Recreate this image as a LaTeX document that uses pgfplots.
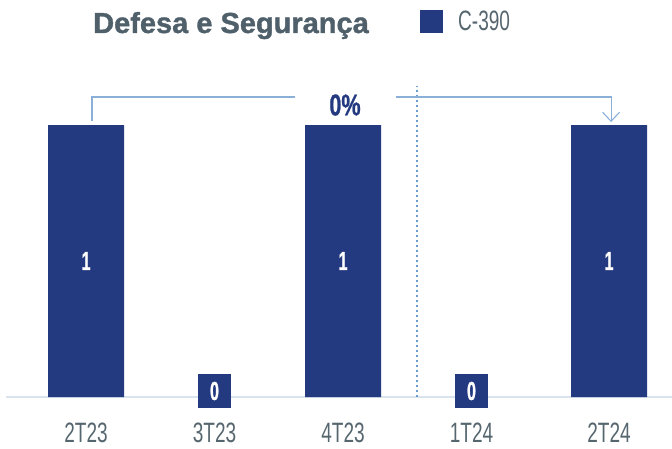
\documentclass[border=0pt]{standalone}
\usepackage{pgfplots}
\pgfplotsset{compat=1.18}
\usepackage{fontspec}
\setmainfont{Liberation Sans}
\newfontfamily\cond[FakeStretch=0.68]{Liberation Sans}
\newfontfamily\condb[FakeStretch=0.62,FakeBold=0.8]{Liberation Sans Bold}
\newfontfamily\condp[FakeStretch=0.72,FakeBold=0.8]{Liberation Sans Bold}
\newfontfamily\titlef[FakeBold=1.2]{Liberation Sans Bold}
\usetikzlibrary{arrows.meta}
\definecolor{navy}{HTML}{243A80}
\definecolor{slate}{HTML}{4F606B}
\definecolor{tickgray}{HTML}{56666F}
\definecolor{lblue}{HTML}{8AB0D8}
\definecolor{dblue}{HTML}{6C9BCF}
\definecolor{basec}{HTML}{D8E3ED}
\begin{document}
\begin{tikzpicture}
\begin{axis}[
  at={(0,0)}, anchor=south west, scale only axis,
  width=672pt, height=448pt,
  xmin=-0.6693, xmax=4.5603, ymin=-0.1875, ymax=1.4596,
  clip=false, axis line style={draw=none}, ymajorticks=false,
  major tick length=0pt,
  xtick={0,1,2,3,4.07}, xticklabels={2T23,3T23,4T23,1T24,2T24},
  xticklabel style={font=\cond\fontsize{28}{28}\selectfont, text=tickgray, anchor=base, inner sep=0pt, yshift=6pt},
]
\draw[basec, line width=1.2pt] (axis cs:-0.62,0) -- (axis cs:4.5603,0);
\addplot[ybar, bar width=76pt, bar shift=0pt, fill=navy, draw=none]
  coordinates {(0,1) (2,1) (4.07,1)};
\addplot[draw=none, nodes near coords, point meta=explicit symbolic,
  nodes near coords style={anchor=center, text=white, inner sep=0pt, font=\condb\fontsize{26}{26}\selectfont}]
  table[meta=label] {
x y label
0 0.5 1
2 0.5 1
4.07 0.5 1
};
\addplot[draw=none, nodes near coords, point meta=explicit symbolic,
  nodes near coords style={anchor=center, fill=navy, text=white, inner sep=0pt, minimum width=33pt, minimum height=34pt, font=\condb\fontsize{26}{26}\selectfont}]
  table[meta=label] {
x y label
1 0.022 0
3 0.022 0
};
\draw[dblue, line width=1.1pt, dash pattern=on 2pt off 3pt] (axis cs:2.576,0) -- (axis cs:2.576,1.143);
\draw[lblue, line width=1.1pt] (axis cs:0.0467,1.015) -- (axis cs:0.0467,1.103) -- (axis cs:1.626,1.103);
\draw[lblue, line width=1.1pt, -{Straight Barb[length=9pt,width=17pt]}] (axis cs:2.412,1.103) -- (axis cs:4.086,1.103) -- (axis cs:4.086,1.011);
\node[text=navy, inner sep=0pt, font=\condp\fontsize{30}{30}\selectfont] at (axis cs:2.0156,1.0735) {0\%};
\end{axis}
\node[anchor=base west, inner sep=0pt, text=slate, font=\titlef\fontsize{29}{29}\selectfont] at (93pt,415pt) {Defesa e Segurança};
\fill[navy] (420pt,415pt) rectangle (443pt,438pt);
\node[anchor=base west, inner sep=0pt, text=tickgray, font=\cond\fontsize{28}{28}\selectfont] at (458pt,417pt) {C-390};
\pgfresetboundingbox
\useasboundingbox (0,0) rectangle (672pt,448pt);
\end{tikzpicture}
\end{document}
